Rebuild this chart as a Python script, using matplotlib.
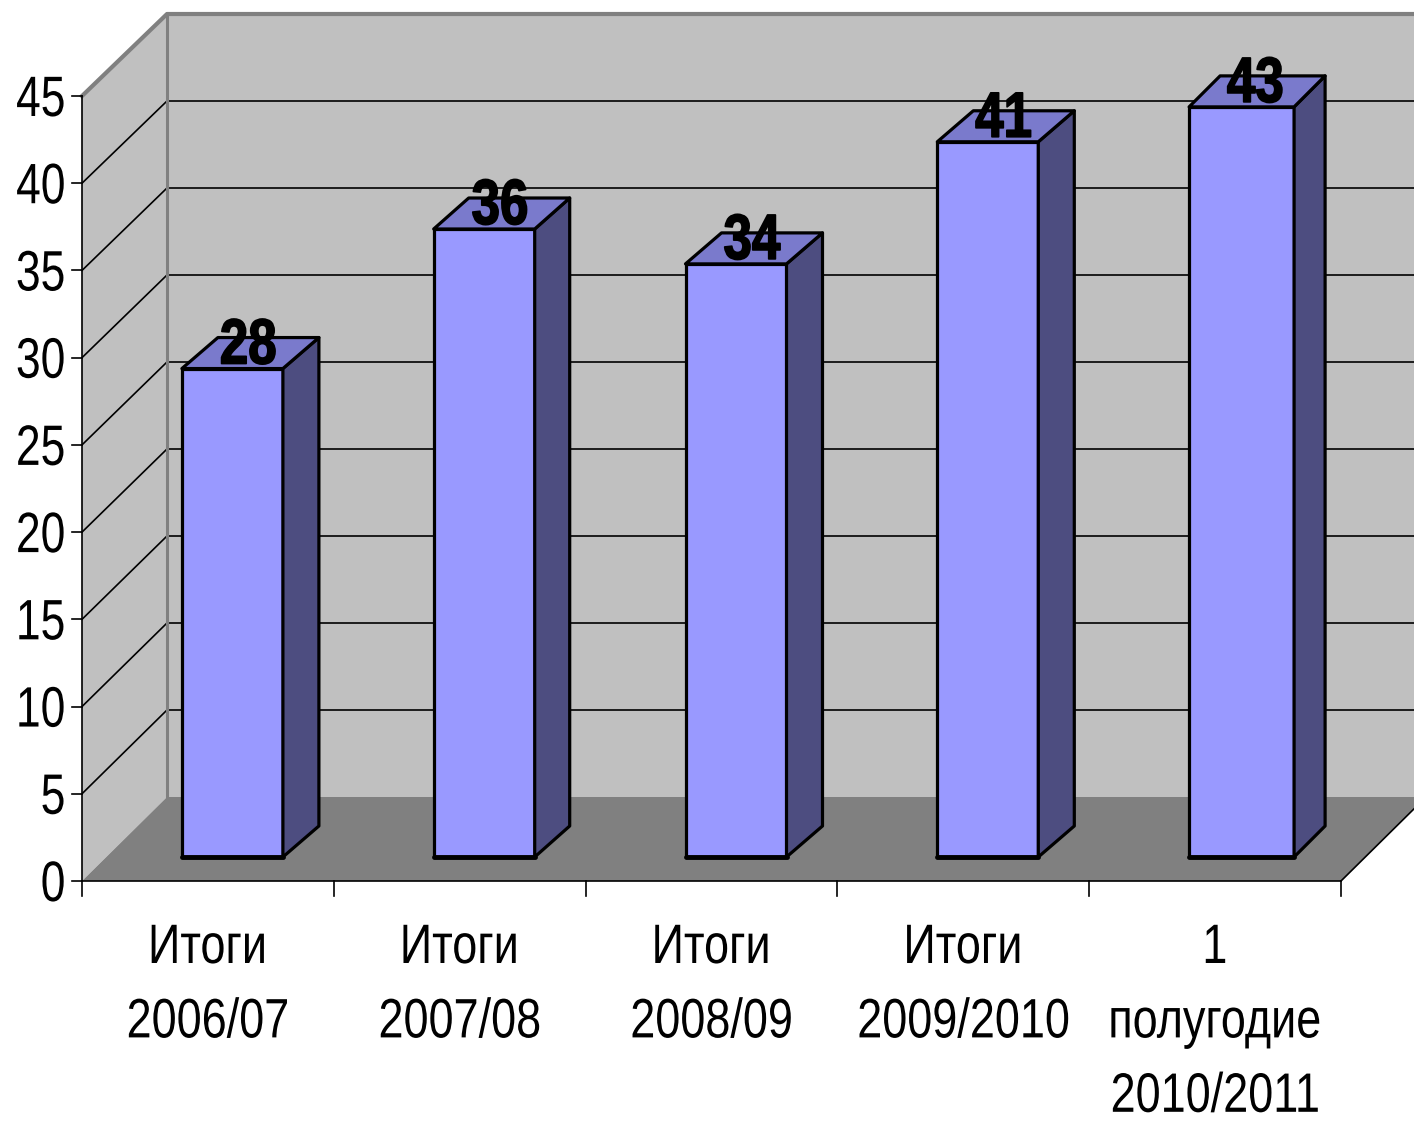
import numpy as np
import matplotlib
matplotlib.use('Agg')
import matplotlib.pyplot as plt
from matplotlib.patches import Polygon
from matplotlib.patheffects import AbstractPathEffect
from matplotlib.transforms import Affine2D

categories = ['Итоги\n2006/07', 'Итоги\n2007/08', 'Итоги\n2008/09', 'Итоги\n2009/2010', '1\nполугодие\n2010/2011']
values = [28, 36, 34, 41, 43]
value_labels = ['28', '36', '34', '41', '43']
y_ticks = [0, 5, 10, 15, 20, 25, 30, 35, 40, 45]

# ширина и глубина столбиков, px
bar_w_px = [101, 101, 101, 101, 105]
bar_depth_px = [36, 35, 36, 36, 31]

W, H = 1414, 1121
FONT = ['Liberation Sans', 'DejaVu Sans']


# узкий шрифт: текст остается текстом, сжимаем глифы по горизонтали
class Narrow(AbstractPathEffect):
    def __init__(self, sx, anchor='center', stroke=0):
        super().__init__()
        self.sx = sx
        self.anchor = anchor
        self.stroke = stroke

    def draw_path(self, renderer, gc, tpath, affine, rgbFace=None):
        x = tpath.vertices[:, 0]
        a = x.max() if self.anchor == 'right' else (x.min() + x.max()) / 2
        aff = Affine2D().translate(-a, 0).scale(self.sx, 1).translate(a, 0) + affine
        gc0 = renderer.new_gc()
        gc0.copy_properties(gc)
        if self.stroke:
            gc0.set_linewidth(self.stroke)
            gc0.set_foreground('black')
        renderer.draw_path(gc0, tpath, aff, rgbFace)
        gc0.restore()


fig = plt.figure(figsize=(W / 100, H / 100), dpi=100, facecolor='white')
# передняя плоскость оси: 82..1341 px, 881..96 px
ax = fig.add_axes([82 / W, 1 - 881 / H, (1341 - 82) / W, (881 - 96) / H])
ax.set_xlim(0, 5)
ax.set_ylim(0, 45)
ax.axis('off')

px_x = 5 / (1341 - 82)
px_y = 45 / (881 - 96)
dx, dy = 85 * px_x, 84 * px_y      # глубина стенки
back = 783 / 785                   # задняя стенка чуть ниже передней
off_x, off_y = 24.5 * px_x, 24 * px_y   # сдвиг столбика от передней плоскости
bar_dy = 31 * px_y
xmax = 5 + dx
ytop = 45


def poly(pts, fc, ec='none', lw=0, z=1):
    ax.add_patch(Polygon(pts, closed=True, facecolor=fc, edgecolor=ec, linewidth=lw,
                         zorder=z, clip_on=False, joinstyle='round'))


# стенки и пол
poly([(dx, dy), (xmax + 1, dy), (xmax + 1, ytop * back + dy), (dx, ytop * back + dy)], '#c0c0c0')
poly([(0, 0), (dx, dy), (dx, ytop * back + dy), (0, ytop)], '#c0c0c0')
poly([(0, 0), (5, 0), (xmax, dy), (dx, dy)], '#808080')

# сетка
for t in y_ticks[1:-1]:
    ax.plot([0, dx, xmax + 1], [t, t * back + dy, t * back + dy], color='black', lw=1.2, zorder=2, clip_on=False)
ax.plot([0, dx, xmax + 1], [ytop, ytop * back + dy, ytop * back + dy], color='#808080', lw=3, zorder=2, clip_on=False)
ax.plot([dx, dx], [ytop * back + dy, dy], color='#808080', lw=2.2, zorder=2, clip_on=False)
ax.plot([5, xmax], [0, dy], color='black', lw=1.2, zorder=2, clip_on=False)
ax.plot([0, 5], [0, 0], color='black', lw=1.2, zorder=3, clip_on=False)
ax.plot([0, 0], [0, ytop], color='black', lw=1.2, zorder=3, clip_on=False)

# засечки
for t in y_ticks:
    ax.plot([-10 * px_x, 0], [t, t], color='black', lw=1.2, zorder=3, clip_on=False)
for i in range(6):
    ax.plot([i, i], [0, -15 * px_y], color='black', lw=1.2, zorder=3, clip_on=False)

for t in y_ticks:
    ax.text(-16 * px_x, t - 20 * px_y, str(t), ha='right', va='baseline', fontsize=41, family=FONT,
            color='black', path_effects=[Narrow(0.78, 'right')])

# столбики
for i, v in enumerate(values):
    x0 = i + 0.5 - 101 * px_x / 2 + off_x
    x1 = x0 + bar_w_px[i] * px_x
    bar_dx = bar_depth_px[i] * px_x
    y0 = off_y
    y1 = off_y + v
    poly([(x0, y0), (x1, y0), (x1, y1), (x0, y1)], '#9999ff', 'black', 2.3, 4)
    poly([(x1, y0), (x1 + bar_dx, y0 + bar_dy), (x1 + bar_dx, y1 + bar_dy), (x1, y1)], '#4d4d80', 'black', 2.3, 4)
    poly([(x0, y1), (x1, y1), (x1 + bar_dx, y1 + bar_dy), (x0 + bar_dx, y1 + bar_dy)], '#7a7acc', 'black', 2.3, 4)
    ax.plot([x0, x1], [y0, y0], color='black', lw=3.5, zorder=5, clip_on=False, solid_capstyle='round')
    ax.text((x0 + 101 * px_x / 2) + 16 * px_x, y1 + 5 * px_y, value_labels[i], ha='center', va='baseline',
            fontsize=46, fontweight='bold', family=FONT, color='black', zorder=6,
            path_effects=[Narrow(0.8, 'center', stroke=1.2)])

# подписи категорий
for i, c in enumerate(categories):
    ax.text(i + 0.5, -42 * px_y, c, ha='center', va='top', fontsize=40, family=FONT,
            linespacing=1.56, color='black', clip_on=False, path_effects=[Narrow(0.81)])

fig.savefig('out.png', dpi=100)
